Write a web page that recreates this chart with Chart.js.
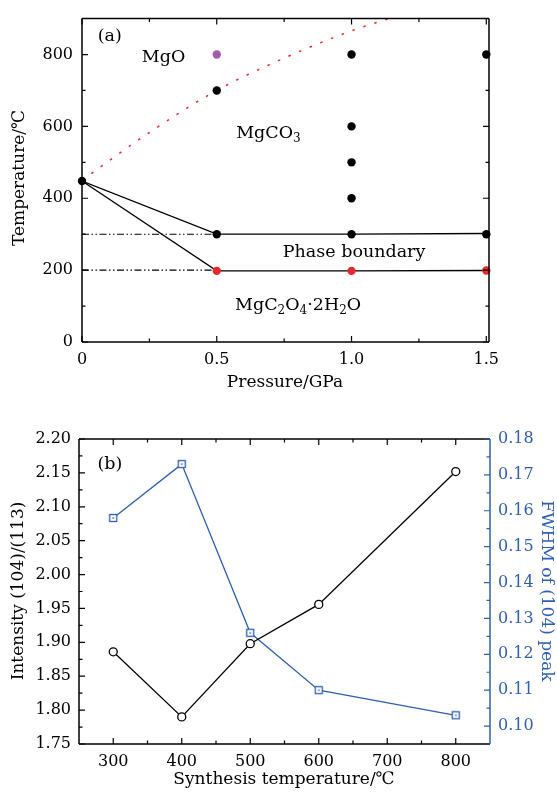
<!DOCTYPE html>
<html>
<head>
<meta charset="utf-8">
<script src="https://cdn.jsdelivr.net/npm/chart.js@4.4.0/dist/chart.umd.min.js"></script>
<style>
  body { margin: 0; background: #fff; }
  canvas { display: block; }
</style>
</head>
<body>
<canvas id="chartA" width="557" height="400"></canvas>
<canvas id="chartB" width="557" height="392"></canvas>
<script>
// ---- (a) phase diagram ----
const boundaryP = [0, 0.5, 1.0, 1.5];
const upperT = [448, 300, 300, 302];
const lowerT = [448, 198, 198, 199];
const guideP = [0, 0.5];
const guideUpperT = [300, 300];
const guideLowerT = [200, 200];
const decompP = [0, 0.25, 0.5, 0.75, 1.0, 1.14];
const decompT = [450, 583, 700, 790, 866, 900];
const blackP = [0, 0.5, 0.5, 1.0, 1.0, 1.0, 1.0, 1.0, 1.5, 1.5];
const blackT = [448, 700, 300, 800, 600, 500, 400, 300, 800, 300];
const redP = [0.5, 1.0, 1.5];
const redT = [198, 198, 199];
const purpleP = [0.5];
const purpleT = [800];

// ---- (b) intensity ratio / FWHM ----
const synthTemp = [300, 400, 500, 600, 800];
const intensityRatio = [1.886, 1.790, 1.898, 1.956, 2.152];
const fwhm = [0.158, 0.173, 0.126, 0.110, 0.103];

const BLUE = '#2f5fb0';
const RED = '#e8282c';
const PURPLE = '#a45aaf';
const SERIF = '"DejaVu Serif", "Liberation Serif", serif';
const tickFont = { family: SERIF, size: 16 };

Chart.defaults.font.family = SERIF;
Chart.defaults.font.size = 16;
Chart.defaults.color = '#000';

const xy = (xs, ys) => xs.map((x, i) => ({ x: x, y: ys[i] }));

// frame + inward ticks (major/minor)
const frameTicks = {
  id: 'frameTicks',
  afterDraw(chart, args, opts) {
    const ctx = chart.ctx;
    const a = chart.chartArea;
    ctx.save();
    opts.sides.forEach(s => {
      const sc = chart.scales[s.scale];
      ctx.strokeStyle = s.color || '#000';
      ctx.lineWidth = 1.5;
      ctx.beginPath();
      if (s.side === 'bottom') { ctx.moveTo(a.left, a.bottom); ctx.lineTo(a.right, a.bottom); }
      if (s.side === 'top') { ctx.moveTo(a.left, a.top); ctx.lineTo(a.right, a.top); }
      if (s.side === 'left') { ctx.moveTo(a.left, a.top); ctx.lineTo(a.left, a.bottom); }
      if (s.side === 'right') { ctx.moveTo(a.right, a.top); ctx.lineTo(a.right, a.bottom); }
      ctx.stroke();
      ctx.lineWidth = 1.2;
      ctx.beginPath();
      [[s.major, 6], [s.minor, 3.5]].forEach(([vals, len]) => {
        vals.forEach(v => {
          const p = sc.getPixelForValue(v);
          if (s.side === 'bottom') { ctx.moveTo(p, a.bottom); ctx.lineTo(p, a.bottom - len); }
          if (s.side === 'top') { ctx.moveTo(p, a.top); ctx.lineTo(p, a.top + len); }
          if (s.side === 'left') { ctx.moveTo(a.left, p); ctx.lineTo(a.left + len, p); }
          if (s.side === 'right') { ctx.moveTo(a.right, p); ctx.lineTo(a.right - len, p); }
        });
      });
      ctx.stroke();
    });
    ctx.restore();
  }
};

// text with subscripts: parts = [[text, isSub], ...]
function drawRich(ctx, x, y, parts, size, color) {
  ctx.fillStyle = color || '#000';
  ctx.textBaseline = 'middle';
  ctx.textAlign = 'left';
  let cx = x;
  parts.forEach(([t, sub]) => {
    ctx.font = (sub ? Math.round(size * 0.7) : size) + 'px ' + SERIF;
    ctx.fillText(t, cx, sub ? y + size * 0.3 : y);
    cx += ctx.measureText(t).width;
  });
}

const annotations = {
  id: 'annotations',
  afterDraw(chart, args, opts) {
    const ctx = chart.ctx;
    ctx.save();
    (opts.labels || []).forEach(l => {
      const x = chart.scales[l.xs].getPixelForValue(l.x);
      const y = chart.scales[l.ys].getPixelForValue(l.y);
      drawRich(ctx, x, y, l.parts, l.size || 17.5, l.color);
    });
    (opts.titles || []).forEach(t => {
      ctx.save();
      ctx.translate(t.x, t.y);
      ctx.rotate(t.rot || 0);
      ctx.font = '17px ' + SERIF;
      ctx.fillStyle = t.color || '#000';
      ctx.textAlign = 'center';
      ctx.textBaseline = 'middle';
      ctx.fillText(t.text, 0, 0);
      ctx.restore();
    });
    ctx.restore();
  }
};

// ---------- chart (a) ----------
new Chart(document.getElementById('chartA'), {
  type: 'scatter',
  data: {
    datasets: [
      { data: xy(purpleP, purpleT), backgroundColor: PURPLE, borderWidth: 0, pointRadius: 4.2, clip: false },
      { data: xy(redP, redT), backgroundColor: RED, borderWidth: 0, pointRadius: 4.2, clip: false },
      { data: xy(blackP, blackT), backgroundColor: '#000', borderWidth: 0, pointRadius: 4.2, clip: false },
      { data: xy(boundaryP, upperT), showLine: true, borderColor: '#000', borderWidth: 1.3, pointRadius: 0 },
      { data: xy(boundaryP, lowerT), showLine: true, borderColor: '#000', borderWidth: 1.3, pointRadius: 0 },
      { data: xy(guideP, guideUpperT), showLine: true, borderColor: '#000', borderWidth: 1.1, borderDash: [7, 2.5, 1.5, 2.5, 1.5, 2.5], pointRadius: 0 },
      { data: xy(guideP, guideLowerT), showLine: true, borderColor: '#000', borderWidth: 1.1, borderDash: [7, 2.5, 1.5, 2.5, 1.5, 2.5], pointRadius: 0 },
      { data: xy(decompP, decompT), showLine: true, borderColor: RED, borderWidth: 1.5, borderDash: [2.5, 9], cubicInterpolationMode: 'monotone', pointRadius: 0 }
    ]
  },
  options: {
    responsive: false,
    animation: false,
    layout: { padding: { top: 15, right: 68, left: 0, bottom: 0 } },
    plugins: {
      legend: { display: false },
      tooltip: { enabled: false },
      frameTicks: {
        sides: [
          { scale: 'x', side: 'bottom', major: [0, 0.5, 1.0, 1.5], minor: [0.25, 0.75, 1.25] },
          { scale: 'x', side: 'top', major: [0, 0.5, 1.0, 1.5], minor: [0.25, 0.75, 1.25] },
          { scale: 'y', side: 'left', major: [0, 200, 400, 600, 800], minor: [100, 300, 500, 700] },
          { scale: 'y', side: 'right', major: [0, 200, 400, 600, 800], minor: [100, 300, 500, 700] }
        ]
      },
      annotations: {
        labels: [
          { xs: 'x', ys: 'y', x: 0.058, y: 850, parts: [['(a)']] },
          { xs: 'x', ys: 'y', x: 0.222, y: 792, parts: [['MgO']] },
          { xs: 'x', ys: 'y', x: 0.572, y: 579, parts: [['MgCO'], ['3', true]] },
          { xs: 'x', ys: 'y', x: 0.745, y: 250, parts: [['Phase boundary']] },
          { xs: 'x', ys: 'y', x: 0.568, y: 102, parts: [['MgC'], ['2', true], ['O'], ['4', true], ['·2H'], ['2', true], ['O']] }
        ],
        titles: [
          { x: 285, y: 383, text: 'Pressure/GPa' },
          { x: 20, y: 178, text: 'Temperature/℃', rot: -Math.PI / 2 }
        ]
      }
    },
    scales: {
      x: {
        type: 'linear', min: 0, max: 1.51,
        afterFit(s) { s.height = 58; },
        grid: { display: false, drawTicks: false },
        border: { display: false },
        ticks: {
          font: tickFont, color: '#000',
          stepSize: 0.5, includeBounds: false, autoSkip: false, maxRotation: 0, padding: 8,
          callback: v => (v === 0 ? '0' : v.toFixed(1))
        }
      },
      y: {
        type: 'linear', min: 0, max: 900,
        afterFit(s) { s.width = 82; },
        grid: { display: false, drawTicks: false },
        border: { display: false },
        ticks: { font: tickFont, color: '#000', stepSize: 200, includeBounds: false, autoSkip: false, padding: 9 }
      }
    }
  },
  plugins: [frameTicks, annotations]
});

// ---------- chart (b) ----------
function squareMarker() {
  const c = document.createElement('canvas');
  c.width = 10; c.height = 10;
  const g = c.getContext('2d');
  g.fillStyle = '#fff';
  g.fillRect(1.5, 1.5, 7, 7);
  g.strokeStyle = BLUE;
  g.lineWidth = 1.3;
  g.strokeRect(1.5, 1.5, 7, 7);
  g.fillStyle = BLUE;
  g.fillRect(4.3, 4.3, 1.5, 1.5);
  return c;
}

new Chart(document.getElementById('chartB'), {
  type: 'line',
  data: {
    datasets: [
      {
        data: xy(synthTemp, intensityRatio), yAxisID: 'y',
        borderColor: '#000', borderWidth: 1.3,
        pointStyle: 'circle', pointRadius: 4, pointBorderWidth: 1.3,
        pointBorderColor: '#000', pointBackgroundColor: '#fff', clip: false
      },
      {
        data: xy(synthTemp, fwhm), yAxisID: 'y1',
        borderColor: BLUE, borderWidth: 1.3,
        pointStyle: squareMarker(), pointRadius: 5, clip: false
      }
    ]
  },
  options: {
    responsive: false,
    animation: false,
    layout: { padding: { top: 39, right: 0, left: 0, bottom: 0 } },
    plugins: {
      legend: { display: false },
      tooltip: { enabled: false },
      frameTicks: {
        sides: [
          { scale: 'x', side: 'bottom', major: [300, 400, 500, 600, 700, 800], minor: [350, 450, 550, 650, 750] },
          { scale: 'x', side: 'top', major: [300, 400, 500, 600, 700, 800], minor: [350, 450, 550, 650, 750] },
          { scale: 'y', side: 'left', major: [1.75, 1.80, 1.85, 1.90, 1.95, 2.00, 2.05, 2.10, 2.15, 2.20],
            minor: [1.775, 1.825, 1.875, 1.925, 1.975, 2.025, 2.075, 2.125, 2.175] },
          { scale: 'y1', side: 'right', color: BLUE, major: [0.10, 0.11, 0.12, 0.13, 0.14, 0.15, 0.16, 0.17, 0.18],
            minor: [0.105, 0.115, 0.125, 0.135, 0.145, 0.155, 0.165, 0.175] }
        ]
      },
      annotations: {
        labels: [
          { xs: 'x', ys: 'y', x: 277, y: 2.1627, parts: [['(b)']] }
        ],
        titles: [
          { x: 284, y: 380, text: 'Synthesis temperature/℃' },
          { x: 19, y: 191, text: 'Intensity (104)/(113)', rot: -Math.PI / 2 },
          { x: 546, y: 191, text: 'FWHM of (104) peak', rot: Math.PI / 2, color: BLUE }
        ]
      }
    },
    scales: {
      x: {
        type: 'linear', min: 250, max: 850,
        afterFit(s) { s.height = 48; },
        grid: { display: false, drawTicks: false },
        border: { display: false },
        ticks: {
          font: tickFont, color: '#000',
          stepSize: 50, includeBounds: false, autoSkip: false, maxRotation: 0, padding: 8,
          callback: v => (v % 100 === 0 && v >= 300 && v <= 800 ? String(v) : '')
        }
      },
      y: {
        type: 'linear', position: 'left', min: 1.75, max: 2.20,
        afterFit(s) { s.width = 79; },
        grid: { display: false, drawTicks: false },
        border: { display: false },
        ticks: { font: tickFont, color: '#000', stepSize: 0.05, autoSkip: false, padding: 8, callback: v => v.toFixed(2) }
      },
      y1: {
        type: 'linear', position: 'right', min: 0.095, max: 0.18,
        afterFit(s) { s.width = 67; },
        grid: { display: false, drawTicks: false },
        border: { display: false },
        ticks: { font: tickFont, stepSize: 0.01, includeBounds: false, autoSkip: false, padding: 8, color: BLUE, callback: v => v.toFixed(2) }
      }
    }
  },
  plugins: [frameTicks, annotations]
});
</script>
</body>
</html>
